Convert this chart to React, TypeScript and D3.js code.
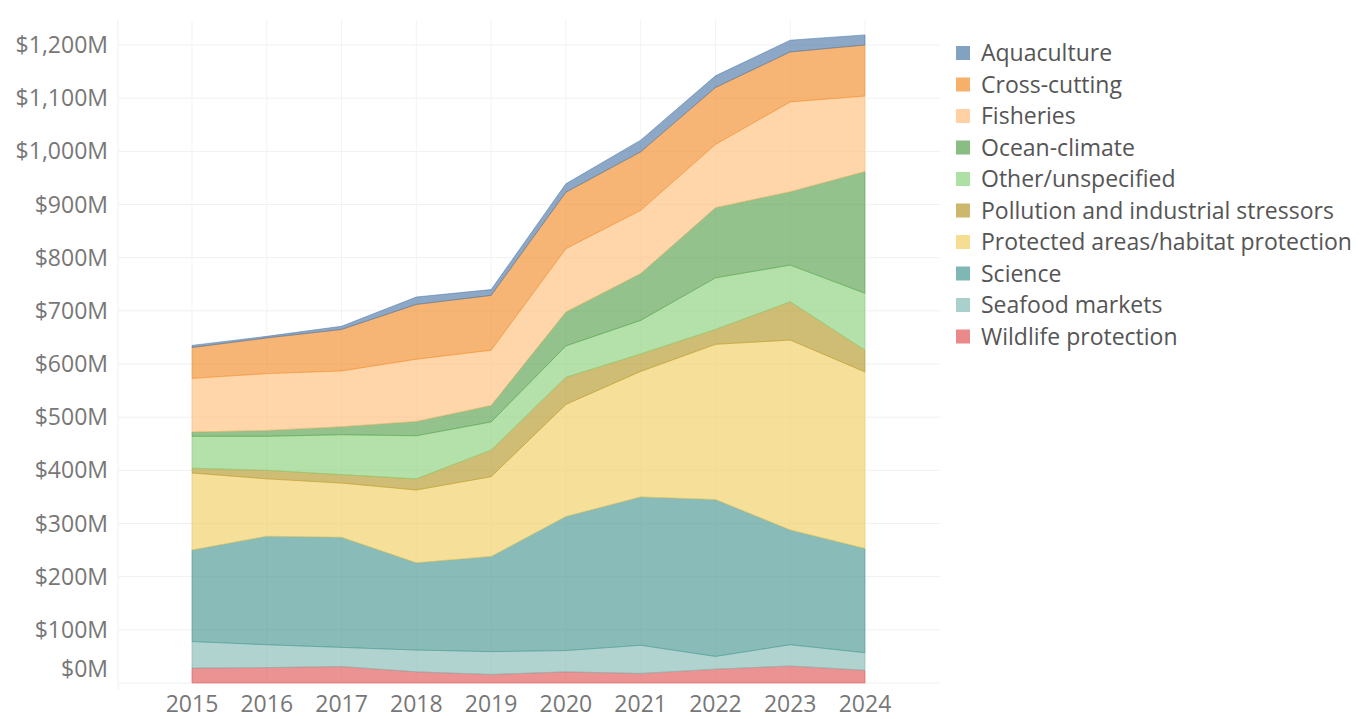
import { useEffect, useRef } from 'react';
import * as d3 from 'd3';

const years = [2015, 2016, 2017, 2018, 2019, 2020, 2021, 2022, 2023, 2024];

// legend order (top of stack first)
const categories = [
  'Aquaculture',
  'Cross-cutting',
  'Fisheries',
  'Ocean-climate',
  'Other/unspecified',
  'Pollution and industrial stressors',
  'Protected areas/habitat protection',
  'Science',
  'Seafood markets',
  'Wildlife protection',
];

const colors = [
  '#4E79A7', '#F28E2B', '#FFBE7D', '#59A14F', '#8CD17D',
  '#B6992D', '#F1CE63', '#499894', '#86BCB6', '#E15759',
];

// values in $M per year
const aquaculture = [4, 3, 6, 14, 11, 16, 22, 22, 22, 19];
const crossCutting = [58, 67, 78, 103, 103, 106, 110, 107, 94, 96];
const fisheries = [101, 107, 105, 117, 104, 119, 119, 119, 169, 142];
const oceanClimate = [8, 11, 15, 27, 31, 64, 88, 132, 138, 229];
const otherUnspecified = [60, 64, 75, 81, 53, 59, 63, 97, 69, 107];
const pollution = [9, 16, 16, 21, 50, 51, 33, 28, 72, 41];
const protectedAreas = [145, 108, 102, 137, 150, 211, 236, 292, 357, 332];
const science = [172, 204, 207, 164, 179, 252, 279, 295, 216, 196];
const seafoodMarkets = [50, 43, 36, 41, 43, 40, 53, 24, 40, 33];
const wildlifeProtection = [28, 29, 31, 21, 16, 21, 18, 26, 32, 24];

const seriesValues = [
  aquaculture, crossCutting, fisheries, oceanClimate, otherUnspecified,
  pollution, protectedAreas, science, seafoodMarkets, wildlifeProtection,
];

const yTicks = [0, 100, 200, 300, 400, 500, 600, 700, 800, 900, 1000, 1100, 1200];

const App = () => {
  const svgRef = useRef<SVGSVGElement | null>(null);
  const width = 1370;
  const height = 719;

  useEffect(() => {
    if (!svgRef.current) return;
    const svg = d3.select(svgRef.current);
    svg.selectAll('*').remove();

    const font = '"Open Sans", "Noto Sans", sans-serif';

    const x = d3.scaleLinear().domain([2015, 2024]).range([192, 865]);
    const y = d3.scaleLinear().domain([0, 1200]).range([683, 45]);

    // table for the stack
    const rows = years.map((yr, i) => {
      const row: Record<string, number> = { year: yr };
      categories.forEach((c, j) => { row[c] = seriesValues[j][i]; });
      return row;
    });

    // bottom of stack = last legend item
    const stackKeys = categories.slice().reverse();
    const stacked = d3.stack<Record<string, number>>().keys(stackKeys)(rows);

    const grid = svg.append('g');
    yTicks.forEach(t => {
      grid.append('line')
        .attr('x1', 118).attr('x2', 940)
        .attr('y1', y(t)).attr('y2', y(t))
        .attr('stroke', '#f0f0f0')
        .attr('stroke-width', 1);
    });
    grid.append('line')
      .attr('x1', 118).attr('x2', 118)
      .attr('y1', 20).attr('y2', 690)
      .attr('stroke', '#f0f0f0');
    years.forEach(yr => {
      grid.append('line')
        .attr('x1', x(yr)).attr('x2', x(yr))
        .attr('y1', 20).attr('y2', 683)
        .attr('stroke', '#f3f3f3');
    });

    const area = d3.area<d3.SeriesPoint<Record<string, number>>>()
      .x(d => x(d.data.year))
      .y0(d => y(d[0]))
      .y1(d => y(d[1]))
      .curve(d3.curveLinear);

    const colorOf = (k: string) => colors[categories.indexOf(k)];

    svg.append('g')
      .selectAll('path')
      .data(stacked)
      .enter()
      .append('path')
      .attr('d', d => area(d))
      .attr('fill', d => colorOf(d.key))
      .attr('fill-opacity', 0.65)
      .attr('stroke', d => colorOf(d.key))
      .attr('stroke-opacity', 0.55)
      .attr('stroke-width', 1);

    // y axis labels
    const yAxis = svg.append('g');
    yTicks.forEach(t => {
      yAxis.append('text')
        .attr('x', 108)
        .attr('y', Math.min(y(t), y(0) - 14))
        .attr('dy', '0.35em')
        .attr('text-anchor', 'end')
        .style('font-family', font)
        .style('font-size', '23px')
        .style('fill', '#777')
        .text(`$${d3.format(',')(t)}M`);
    });

    // x axis labels
    const xAxis = svg.append('g');
    years.forEach(yr => {
      xAxis.append('text')
        .attr('x', x(yr))
        .attr('y', 704)
        .attr('dy', '0.35em')
        .attr('text-anchor', 'middle')
        .style('font-family', font)
        .style('font-size', '23px')
        .style('fill', '#777')
        .text(String(yr));
    });

    // legend
    const legend = svg.append('g').attr('transform', 'translate(956, 53)');
    categories.forEach((c, i) => {
      const row = legend.append('g').attr('transform', `translate(0, ${i * 31.5})`);
      row.append('rect')
        .attr('x', 0).attr('y', -7)
        .attr('width', 14).attr('height', 14)
        .attr('fill', colors[i])
        .attr('fill-opacity', 0.7);
      row.append('text')
        .attr('x', 25)
        .attr('y', 0)
        .attr('dy', '0.35em')
        .style('font-family', font)
        .style('font-size', '23px')
        .style('fill', '#555')
        .text(c);
    });
  }, []);

  return (
    <svg
      ref={svgRef}
      width={width}
      height={height}
      style={{ position: 'absolute', left: 0, top: 0, background: '#fff' }}
    />
  );
};

export default App;
